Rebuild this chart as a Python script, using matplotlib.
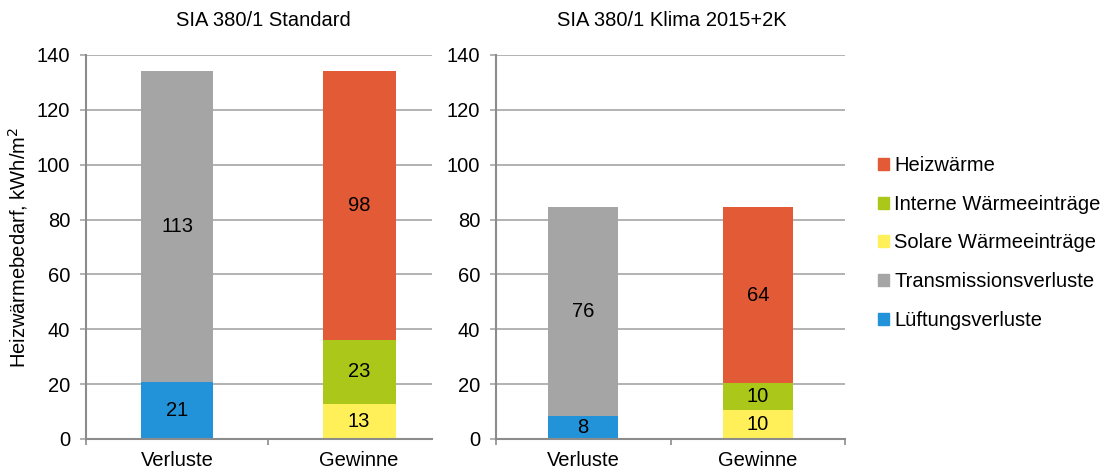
import numpy as np
import matplotlib
matplotlib.use('Agg')
from matplotlib import pyplot as plt
from matplotlib.patches import Patch

plt.rcParams['font.family'] = ['Liberation Sans', 'DejaVu Sans']

categories = ['Verluste', 'Gewinne']
titles = ['SIA 380/1 Standard', 'SIA 380/1 Klima 2015+2K']

# stacked components per scenario: [Verluste, Gewinne]
# bottom to top order
lueftung = [[20.6, 0.0], [8.4, 0.0]]
transmission = [[113.4, 0.0], [76.1, 0.0]]
solar = [[0.0, 12.8], [0.0, 10.4]]
intern = [[0.0, 23.3], [0.0, 9.9]]
heiz = [[0.0, 97.9], [0.0, 64.2]]

names = ['Lüftungsverluste', 'Transmissionsverluste', 'Solare Wärmeeinträge',
         'Interne Wärmeeinträge', 'Heizwärme']
colors = ['#2393D9', '#A5A5A5', '#FFF05A', '#ABC71A', '#E35A37']
series = [lueftung, transmission, solar, intern, heiz]

grid_c = '#A6A6A6'
axis_c = '#8C8C8C'
fs = 14.5

fig = plt.figure(figsize=(11.05, 4.72), dpi=100)
ax1 = fig.add_axes([86/1105, 33/472, 346/1105, 384/472])
ax2 = fig.add_axes([496/1105, 33/472, 349/1105, 384/472])

for k, ax in enumerate([ax1, ax2]):
    x = np.arange(len(categories))
    bottom = np.zeros(len(categories))
    for s, c in zip(series, colors):
        vals = np.array(s[k])
        ax.bar(x, vals, 0.4, bottom=bottom, color=c, zorder=3)
        for xi, v, b in zip(x, vals, bottom):
            if v > 0:
                ax.text(xi, b + v / 2, f'{v:.0f}', ha='center', va='center',
                        fontsize=fs, color='black', zorder=4)
        bottom += vals
    ax.set_ylim(0, 140)
    ax.set_yticks(np.arange(0, 141, 20))
    ax.yaxis.grid(True, color=grid_c, linewidth=1.2, zorder=0)
    ax.set_axisbelow(True)
    for sp in ['top', 'right']:
        ax.spines[sp].set_visible(False)
    for sp in ['left', 'bottom']:
        ax.spines[sp].set_color(axis_c)
        ax.spines[sp].set_linewidth(1.5)
        ax.spines[sp].set_zorder(5)
    ax.set_xticks(x)
    ax.set_xticklabels(categories)
    ax.set_xticks([-0.5, 0.5, 1.5], minor=True)
    ax.tick_params(axis='x', which='major', length=0, pad=9, labelsize=fs)
    ax.tick_params(axis='x', which='minor', length=4, width=1.2, color=axis_c, direction='out')
    ax.tick_params(axis='y', length=4.5, width=1.2, color=grid_c, pad=7, labelsize=fs)

ax1.set_xlim(-0.5, 1.4)
ax2.set_xlim(-0.5, 1.5)
ax1.set_ylabel('Heizwärmebedarf, kWh/m$^2$', fontsize=fs, labelpad=5)

fig.text(263/1105, 1 - 20/472, titles[0], ha='center', va='center', fontsize=fs)
fig.text(672/1105, 1 - 20/472, titles[1], ha='center', va='center', fontsize=fs)

handles = [Patch(color=c, label=n) for n, c in zip(names, colors)][::-1]
fig.legend(handles=handles, loc='center left', bbox_to_anchor=(874/1105, 1 - 243/472),
           frameon=False, fontsize=fs, handlelength=0.55, handleheight=0.55,
           handletextpad=0.25, labelspacing=0.98, borderaxespad=0, borderpad=0.2)

fig.savefig('out.png', dpi=100)
